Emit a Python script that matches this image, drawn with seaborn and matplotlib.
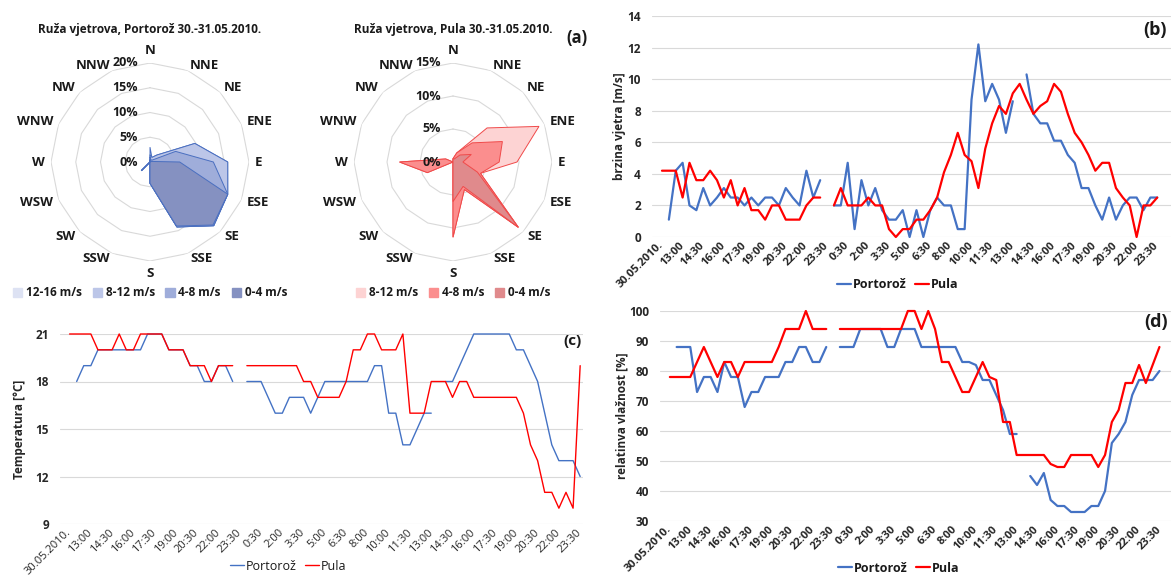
import matplotlib.pyplot as plt
import matplotlib.transforms as mtransforms
from matplotlib.lines import Line2D
from matplotlib.patches import Patch
import numpy as np
import pandas as pd
import seaborn as sns

nan = np.nan
W, H = 1171, 575

# --- wind rose data (% of time, cumulative per speed class) ---
directions = ['N', 'NNE', 'NE', 'ENE', 'E', 'ESE', 'SE', 'SSE',
              'S', 'SSW', 'SW', 'WSW', 'W', 'WNW', 'NW', 'NNW']

portoroz_12_16 = [3, 1, 2, 9.8, 15.7, 17, 18.2, 14.2, 4.3, 0, 2.5, 0, 0, 0, 0, 0]
portoroz_8_12 = [1.5, 1, 2, 9.8, 15.7, 17, 18.2, 14.2, 4.3, 0, 2.5, 0, 0, 0, 0, 0]
portoroz_4_8 = [1, 0.5, 0.5, 5.6, 12.8, 17, 18.2, 14.2, 4.3, 0, 2.5, 0, 0, 0, 0, 0]
portoroz_0_4 = [0.5, 0, 0, 0.3, 6, 17, 18, 14, 4.3, 0, 0, 0, 0, 0, 0, 0]

pula_8_12 = [0.5, 1.5, 7.3, 14.1, 9.7, 4.5, 14, 4.5, 11.4, 0, 0, 4.2, 8.1, 1.2, 0, 0]
pula_4_8 = [0.5, 1.5, 4.1, 8.1, 7, 4.5, 14, 4.5, 11.4, 0, 0, 4.2, 8.1, 1.2, 0, 0]
pula_0_4 = [0.5, 0.5, 1.5, 3, 1.5, 4, 14, 4, 6, 0, 0, 0, 0, 0, 0, 0]

# --- time series, half-hour steps, 30.05. -> 31.05.2010. ---
time_labels = ['30.05.2010.', '13:00', '14:30', '16:00', '17:30', '19:00', '20:30',
               '22:00', '23:30', '0:30', '2:00', '3:30', '5:00', '6:30', '8:00',
               '10:00', '11:30', '13:00', '14:30', '16:00', '17:30', '19:00',
               '20:30', '22:00', '23:30']

wind_portoroz = [nan, 1.1, 4.2, 4.7, 2.0, 1.7, 3.1, 2.0, 2.5, 3.1, 2.5, 2.5, 2.0, 2.5, 2.0,
                 2.5, 2.5, 2.0, 3.1, 2.5, 2.0, 4.2, 2.5, 3.6, nan,
                 2.0, 2.0, 4.7, 0.5, 3.6, 2.0, 3.1, 1.7, 1.1, 1.1, 1.7, 0.0, 1.7, 0.0,
                 1.7, 2.5, 2.0, 2.0, 0.5, 0.5, 8.7, 12.2, 8.6, 9.7, 8.7, 6.6, 8.6, nan,
                 10.3, 7.8, 7.2, 7.2, 6.1, 6.1, 5.2, 4.7, 3.1, 3.1, 2.0, 1.1, 2.5, 1.1,
                 2.0, 2.5, 2.5, 1.7, 2.5, 2.5]
wind_pula = [4.2, 4.2, 4.2, 2.5, 4.7, 3.6, 3.6, 4.2, 3.6, 2.5, 3.6, 2.0, 3.1, 1.7, 1.7,
             1.1, 2.0, 2.0, 1.1, 1.1, 1.1, 2.0, 2.5, 2.5, nan,
             2.0, 3.1, 2.0, 2.0, 2.0, 2.5, 2.0, 2.0, 0.5, 0.0, 0.5, 0.5, 1.1, 1.1,
             1.7, 2.5, 4.1, 5.2, 6.6, 5.2, 4.8, 3.1, 5.6, 7.2, 8.3, 7.8, 9.1, 9.7,
             8.7, 7.8, 8.3, 8.6, 9.7, 9.2, 7.8, 6.6, 6.0, 5.2, 4.2, 4.7, 4.7, 3.1,
             2.5, 2.0, 0.0, 2.0, 2.0, 2.5]

temp_portoroz = [nan, 18, 19, 19, 20, 20, 20, 20, 20, 20, 20, 21, 21, 21, 20, 20, 20,
                 19, 19, 18, 18, 19, 19, 18, nan,
                 18, 18, 18, 17, 16, 16, 17, 17, 17, 16, 17, 18, 18, 18, 18, 18, 18,
                 18, 19, 19, 16, 16, 14, 14, 15, 16, 16, nan,
                 18, 18, 19, 20, 21, 21, 21, 21, 21, 21, 20, 20, 19, 18, 16, 14, 13,
                 13, 13, 12]
temp_pula = [21, 21, 21, 21, 20, 20, 20, 21, 20, 20, 21, 21, 21, 21, 20, 20, 20, 19, 19,
             19, 18, 19, 19, 19, nan,
             19, 19, 19, 19, 19, 19, 19, 19, 18, 18, 17, 17, 17, 17, 18, 20, 20, 21,
             21, 20, 20, 20, 21, 16, 16, 16, 18, 18, 18, 17, 18, 18, 17, 17, 17, 17,
             17, 17, 17, 16, 14, 13, 11, 11, 10, 11, 10, 19]

hum_portoroz = [nan, 88, 88, 88, 73, 78, 78, 73, 83, 78, 78, 68, 73, 73, 78, 78, 78,
                83, 83, 88, 88, 83, 83, 88, nan,
                88, 88, 88, 94, 94, 94, 94, 88, 88, 94, 94, 94, 88, 88, 88, 88, 88,
                88, 83, 83, 82, 77, 77, 72, 67, 59, 59, nan,
                45, 42, 46, 37, 35, 35, 33, 33, 33, 35, 35, 40, 56, 59, 63, 72, 77,
                77, 77, 80]
hum_pula = [78, 78, 78, 78, 83, 88, 83, 78, 83, 83, 78, 83, 83, 83, 83, 83, 88, 94, 94,
            94, 100, 94, 94, 94, nan,
            94, 94, 94, 94, 94, 94, 94, 94, 94, 94, 100, 100, 94, 100, 94, 83, 83,
            78, 73, 73, 78, 83, 78, 77, 63, 63, 52, 52, 52, 52, 52, 49, 48, 48, 52,
            52, 52, 52, 48, 52, 63, 67, 76, 76, 82, 76, 82, 88]

BLUE = '#4472c4'
RED = '#ff0000'

sns.set_theme(style='white')
plt.rcParams['font.family'] = ['Open Sans', 'DejaVu Sans']
plt.rcParams['text.color'] = '#1a1a1a'

fig = plt.figure(figsize=(W / 100, H / 100), dpi=100)


def box(left, top, right, bottom):
    return [left / W, 1 - bottom / H, (right - left) / W, (bottom - top) / H]


def draw_rose(rect, series, colors, edge, rmax, rings, title, center_x, legend_labels):
    ax = fig.add_axes(rect, projection='polar')
    ax.set_theta_zero_location('N')
    ax.set_theta_direction(-1)
    ax.set_ylim(0, rmax)
    ax.axis('off')
    theta = np.deg2rad(np.arange(17) * 22.5)
    for r in rings:
        ax.plot(theta, [r] * 17, color='#d9d9d9', lw=0.8, zorder=0)
    for vals, col in zip(series, colors):
        ax.fill(theta, list(vals) + [vals[0]], facecolor=col, edgecolor=edge, lw=0.7, zorder=2)

    # compass labels, anchored outward like the spreadsheet radar chart
    for ang, name in zip(theta[:16], directions):
        s = np.sin(ang)
        ha = 'left' if s > 0.1 else ('right' if s < -0.1 else 'center')
        va = 'center'
        if name == 'N':
            va = 'bottom'
        elif name == 'S':
            va = 'top'
        ax.text(ang, rmax * 1.06, name, ha=ha, va=va, fontsize=9.5, weight='bold')

    tr = mtransforms.offset_copy(ax.transData, fig=fig, x=-12, y=0, units='dots')
    for r in [0] + rings:
        ax.text(0, r, f'{r}%', transform=tr, ha='right', va='center', fontsize=9,
                weight='bold', zorder=5)
    fig.text(center_x / W, 1 - 30 / H, title, ha='center', va='center', fontsize=8.5,
             weight='bold')
    handles = [Patch(facecolor=c, edgecolor=c) for c in colors]
    fig.legend(handles=handles, labels=legend_labels, loc='center',
               bbox_to_anchor=(center_x / W, 1 - 293 / H), ncol=len(colors),
               frameon=False, handlelength=0.8, handleheight=0.8, handletextpad=0.3,
               columnspacing=0.9, prop={'weight': 'bold', 'size': 8.5})


draw_rose(box(51, 63, 249, 261),
          [portoroz_12_16, portoroz_8_12, portoroz_4_8, portoroz_0_4],
          ['#dde2f3', '#bcc6e8', '#9fadda', '#8591c1'], '#4a6fc0', 20, [5, 10, 15, 20],
          'Ruža vjetrova, Portorož 30.-31.05.2010.', 150,
          ['12-16 m/s', '8-12 m/s', '4-8 m/s', '0-4 m/s'])
draw_rose(box(354, 63, 552, 261),
          [pula_8_12, pula_4_8, pula_0_4],
          ['#fdd3d3', '#fb8e8e', '#e08a8c'], '#f04a4a', 15, [5, 10, 15],
          'Ruža vjetrova, Pula 30.-31.05.2010.', 453,
          ['8-12 m/s', '4-8 m/s', '0-4 m/s'])


def long_frame(portoroz, pula):
    parts = []
    for name, vals in (('Portorož', portoroz), ('Pula', pula)):
        s = pd.Series(vals, dtype=float)
        seg = s.isna().cumsum().astype(str)
        d = pd.DataFrame({'idx': np.arange(len(s)), 'value': s, 'station': name,
                          'seg': name + seg})
        parts.append(d.dropna())
    return pd.concat(parts, ignore_index=True)


def draw_series(rect, xlim, portoroz, pula, ylim, yticks, ylabel, label_x, lw, bold,
                legend_center, tag, tag_pos, tag_size):
    ax = fig.add_axes(rect)
    df = long_frame(portoroz, pula)
    # units keep the gaps in the records instead of bridging them
    sns.lineplot(data=df, x='idx', y='value', hue='station', units='seg',
                 estimator=None, palette={'Portorož': BLUE, 'Pula': RED},
                 linewidth=lw, legend=False, ax=ax)
    for line in ax.lines:
        line.set_clip_on(False)
    ax.set_xlim(*xlim)
    ax.set_ylim(*ylim)
    ax.set_yticks(yticks)
    ax.set_yticklabels([str(t) for t in yticks], fontsize=8.5, weight='bold')
    ax.set_xticks(np.arange(0, 73, 3))
    ax.set_xticklabels(time_labels, rotation=45, ha='right', va='center',
                       rotation_mode='anchor', fontsize=8,
                       weight='bold' if bold else 'normal')
    ax.tick_params(axis='both', length=0)
    ax.tick_params(axis='y', pad=8)
    ax.tick_params(axis='x', pad=5)
    ax.grid(axis='y', color='#d9d9d9', lw=0.8)
    for sp in ax.spines.values():
        sp.set_visible(False)
    ax.set_xlabel('')
    ax.set_ylabel(ylabel, fontsize=8.5, weight='bold')
    ax.yaxis.set_label_coords(label_x, 0.5)
    handles = [Line2D([], [], color=BLUE, lw=lw), Line2D([], [], color=RED, lw=lw)]
    fig.legend(handles=handles, labels=['Portorož', 'Pula'], loc='center',
               bbox_to_anchor=(legend_center[0] / W, 1 - legend_center[1] / H), ncol=2,
               frameon=False, handlelength=1.1, handletextpad=0.15, columnspacing=0.7,
               prop={'weight': 'bold' if bold else 'normal', 'size': 9})
    fig.text(tag_pos[0] / W, 1 - tag_pos[1] / H, tag, ha='center', va='center',
             fontsize=tag_size, weight='bold')
    return ax


draw_series(box(652, 16, 1171, 237), (-1.45, 74.0), wind_portoroz, wind_pula, (0, 14),
            list(range(0, 15, 2)), 'brzina vjetra [m/s]', -0.05, 1.6, True,
            (898, 285), '(b)', (1155, 30), 13)
draw_series(box(60, 334, 583, 524), (-1.35, 72.4), temp_portoroz, temp_pula, (9, 21),
            [9, 12, 15, 18, 21], 'Temperatura [°C]', -0.065, 1.0, False,
            (288, 566), '(c)', (573, 341), 11)
draw_series(box(660, 311, 1171, 521), (-1.45, 73.7), hum_portoroz, hum_pula, (30, 100),
            list(range(30, 101, 10)), 'relatinva vlažnost [%]', -0.062, 1.6, True,
            (899, 568), '(d)', (1156, 322), 13)

fig.text(577 / W, 1 - 38 / H, '(a)', ha='center', va='center', fontsize=12,
         weight='bold')

fig.savefig('out.png', dpi=100)
